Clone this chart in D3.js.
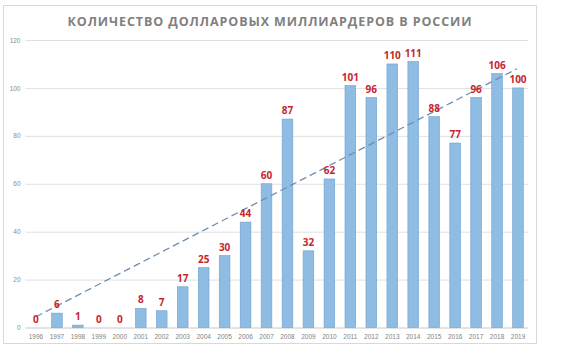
<!DOCTYPE html>
<html><head><meta charset="utf-8">
<script src="https://cdn.jsdelivr.net/npm/d3@7"></script>
<style>body{margin:0;background:#fff}svg{display:block}</style>
</head><body>
<svg id="c" width="568" height="357"></svg>
<script>
const title = "КОЛИЧЕСТВО ДОЛЛАРОВЫХ МИЛЛИАРДЕРОВ В РОССИИ";
const years = ["1996","1997","1998","1999","2000","2001","2002","2003","2004","2005","2006","2007","2008","2009","2010","2011","2012","2013","2014","2015","2016","2017","2018","2019"];
const billionaires = [0,6,1,0,0,8,7,17,25,30,44,60,87,32,62,101,96,110,111,88,77,96,106,100];
const yTicks = [0,20,40,60,80,100,120];
const trendStart = 4.5, trendEnd = 108;

const svg = d3.select("#c");
svg.append("rect").attr("x",3.5).attr("y",5.5).attr("width",533).attr("height",338)
  .attr("fill","#fff").attr("stroke","#d9d9d9");

const x = d3.scaleBand().domain(years).range([25.5,528.5]).paddingInner(0.49).paddingOuter(0.245);
const y = d3.scaleLinear().domain([0,120]).range([327.5,40]);

const t = svg.append("text").attr("x",270).attr("y",26).attr("text-anchor","middle")
  .attr("font-family","Open Sans").attr("font-weight","bold").attr("font-size",12.5)
  .attr("letter-spacing",1).attr("fill","#808080").text(title);
const bb = t.node().getBBox();
const ls = 1 + (405 - bb.width) / (title.length - 1);
t.attr("letter-spacing", ls).attr("x", 269.5 + ls / 2);

const gy = svg.append("g").attr("transform","translate(25.5,0)")
  .call(d3.axisLeft(y).tickValues(yTicks).tickSize(-503).tickPadding(5));
gy.select(".domain").remove();
gy.selectAll(".tick line").attr("stroke",d=>d===0?"#c8c8c8":"#e0e0e0");
gy.selectAll(".tick text").attr("font-family","Liberation Sans").attr("font-size",6.5).attr("fill","#8c8c8c");

const gx = svg.append("g").attr("transform","translate(0,327.5)")
  .call(d3.axisBottom(x).tickSize(0).tickPadding(7));
gx.select(".domain").remove();
gx.selectAll(".tick text").attr("font-family","Liberation Sans").attr("font-size",6.5).attr("fill","#7f7f7f");

svg.append("g").selectAll("rect").data(billionaires).join("rect")
  .attr("x",(d,i)=>x(years[i])).attr("width",x.bandwidth())
  .attr("y",d=>y(d)).attr("height",d=>y(0)-y(d))
  .attr("fill","#8fbce2").attr("stroke","#6f9fcf").attr("stroke-width",0.6);

svg.append("line")
  .attr("x1",x(years[0])+x.bandwidth()/2).attr("y1",y(trendStart))
  .attr("x2",x(years[years.length-1])+x.bandwidth()/2-1).attr("y2",y(trendEnd))
  .attr("stroke","#6d8fb2").attr("stroke-width",1.3).attr("stroke-dasharray","7,4");

svg.append("g").selectAll("text").data(billionaires).join("text")
  .attr("x",(d,i)=>x(years[i])+x.bandwidth()/2).attr("y",d=>y(d)-5)
  .attr("text-anchor","middle").attr("font-family","Open Sans").attr("font-weight","bold")
  .attr("font-size",10).attr("fill","#c4262e").text(d=>d);
</script>
</body></html>
